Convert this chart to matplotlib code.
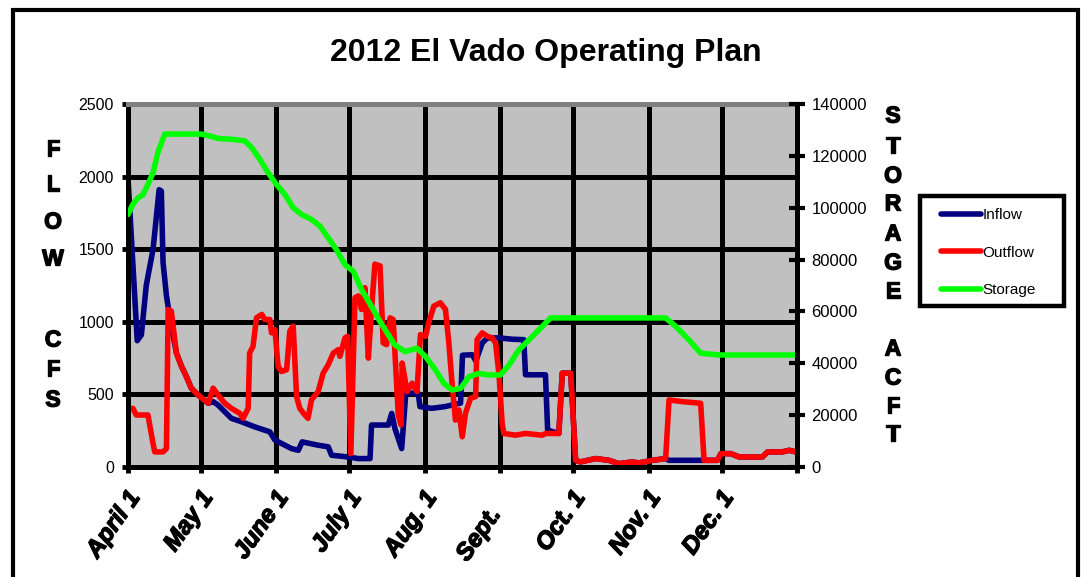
import matplotlib
matplotlib.use("Agg")
import matplotlib.pyplot as plt
from matplotlib import patheffects
from matplotlib.lines import Line2D
from matplotlib.patches import Rectangle
from matplotlib.transforms import offset_copy

plt.rcParams["font.family"] = ["Liberation Sans", "DejaVu Sans"]

# days counted from April 1
month_days = [0, 30, 61, 91, 122, 153, 183, 214, 244, 275]
month_labels = ["April 1", "May 1", "June 1", "July 1", "Aug. 1", "Sept.   ",
                "Oct. 1", "Nov. 1", "Dec. 1", ""]

inflow_day = [0, 3.8, 5.5, 7.5, 10.3, 12.8, 13.7, 14.4, 15.8, 17.1, 19.9, 22, 24,
              26, 28.8, 33, 35, 37, 42.5, 46.6, 52, 58.3, 60.4, 67.2, 70, 71.6,
              78.2, 82.3, 83.7, 90.5, 94.7, 99.5, 100.1, 107, 108.4, 109.7, 112.5,
              114.2, 119.3, 120, 124.8, 130.3, 136.7, 137.5, 141.5, 143, 145.6,
              147.7, 152.5, 158, 162.7, 163.4, 171.6, 172.5, 177.1, 178.5, 182,
              184, 186, 192.2, 197.7, 201.8, 207.3, 210, 215.6, 221, 222.4, 234,
              237, 242.3, 243.7, 247.8, 251.2, 260.8, 262.9, 269, 271.8, 274.5]
inflow_cfs = [1990, 870, 910, 1250, 1500, 1910, 1900, 1410, 1180, 1040, 785, 693,
              623, 543, 496, 439, 450, 427, 335, 312, 277, 242, 185, 127, 115, 173,
              150, 139, 81, 69, 58, 58, 289, 289, 369, 266, 127, 510, 508, 416, 404,
              416, 440, 770, 773, 730, 854, 889, 889, 880, 877, 635, 635, 254, 231,
              646, 646, 46, 35, 58, 46, 23, 35, 28, 46, 58, 46, 46, 46, 46, 92, 92,
              69, 69, 104, 104, 115, 104]

outflow_day = [0, 2, 3.4, 8.2, 10.3, 11, 14.4, 15.8, 16.5, 17.8, 19.9, 22, 24, 26,
               28.8, 33, 35, 37, 39.8, 42.5, 46, 47.3, 49.4, 50, 51.4, 52.8, 55,
               56.2, 58.3, 59, 60.4, 61.7, 63.1, 65.2, 66.5, 67.9, 69.3, 70.6, 72.7,
               74, 75.4, 78.2, 80.2, 82.3, 84.4, 86.4, 87.1, 89.2, 90.3, 91.6, 93.3,
               94.7, 96, 97.4, 98.8, 100.1, 101.5, 103.6, 104.9, 106.3, 107.7, 109,
               111.1, 112.2, 112.7, 114.7, 116.8, 118.8, 120.2, 122.3, 123.6, 125.7,
               128.4, 130.5, 131.9, 133.2, 134.6, 136, 137.4, 138.7, 140.8, 142.9,
               143.5, 145.6, 147.7, 149.7, 151.1, 152.5, 153.8, 154.5, 159.3, 163.4,
               170.3, 171.7, 177.1, 178.5, 182, 184, 186, 192.2, 197.7, 201.8, 207.3,
               210, 215.6, 221, 222.4, 227.9, 235.4, 236.8, 242.3, 243.7, 247.8,
               251.2, 256.7, 260.8, 262.9, 269, 271.8, 274.5]
outflow_cfs = [397, 404, 358, 358, 162, 104, 104, 127, 1085, 1074, 785, 693, 623,
               543, 496, 439, 543, 496, 439, 404, 369, 335, 404, 785, 831, 1027,
               1051, 1016, 1016, 924, 947, 693, 658, 670, 935, 970, 485, 404, 358,
               335, 462, 520, 646, 704, 785, 808, 762, 889, 900, 92, 1166, 1178,
               1085, 1235, 750, 1085, 1397, 1385, 854, 843, 1027, 1016, 358, 290,
               716, 520, 577, 520, 912, 900, 993, 1108, 1131, 1085, 854, 577, 323,
               393, 208, 369, 473, 485, 877, 924, 900, 889, 854, 635, 300, 231, 219,
               231, 219, 231, 231, 646, 646, 46, 35, 58, 46, 23, 35, 28, 46, 58,
               462, 450, 439, 46, 46, 92, 92, 69, 69, 69, 104, 104, 115, 104]

storage_day = [0, 2, 4.1, 6.2, 8.2, 10.3, 12.3, 15.1, 30.2, 34.3, 37, 42.5, 48,
               50.8, 54.2, 57.6, 61, 64.5, 67.9, 71.3, 75.4, 78.9, 82.3, 85.7, 89.2,
               92.6, 96, 100.1, 103.6, 107, 109.7, 113.9, 118.8, 122.3, 126.4, 129.8,
               133.2, 136.7, 140.1, 144.2, 148.3, 153.1, 156.6, 160.7, 166.2, 173.7,
               193.6, 221, 225.2, 230.6, 235.4, 243, 274.5]
storage_acft = [97400, 101300, 103800, 105100, 109000, 113500, 121300, 128400,
                128400, 127500, 126700, 126400, 125800, 123200, 118700, 113500,
                109000, 105100, 100000, 97400, 95500, 92900, 88400, 83800, 78000,
                75500, 68400, 61900, 56100, 51000, 47100, 44500, 45800, 42600,
                37400, 32300, 29700, 30300, 34800, 36100, 35500, 35500, 39300,
                45200, 50300, 57500, 57500, 57500, 54200, 49000, 43900, 43200, 43200]

W, H = 1083, 577
heavy = [patheffects.withStroke(linewidth=1.0, foreground="black")]

fig = plt.figure(figsize=(W / 100, H / 100), dpi=100)
ax = fig.add_axes([128 / W, 1 - 467 / H, (797 - 128) / W, (467 - 104) / H])
ax2 = ax.twinx()

ax.set_facecolor("#C0C0C0")
ax.set_xlim(0, 275)
ax.set_ylim(0, 2500)
ax2.set_ylim(0, 140000)
ax.set_yticks(range(0, 2501, 500))
ax2.set_yticks(range(0, 140001, 20000))
ax.set_xticks(month_days)
ax.set_xticklabels([])

# rotated month labels, right end hung just below each tick
label_tr = offset_copy(ax.get_xaxis_transform(), fig=fig, x=-2, y=-20,
                       units="dots")
for d, txt in zip(month_days, month_labels):
    ax.text(d, 0, txt, transform=label_tr, rotation=55, ha="right", va="top",
            rotation_mode="anchor", fontsize=17.5, fontweight="bold",
            fontstyle="italic", path_effects=heavy, clip_on=False)

ax.grid(True, color="black", linewidth=3.6)
ax.set_axisbelow(True)
for name in ["left", "bottom"]:
    ax.spines[name].set_linewidth(3.6)
ax.spines["top"].set_color("#808080")
ax.spines["top"].set_linewidth(3.6)
ax2.spines["right"].set_linewidth(3.6)
for name in ["left", "top", "bottom"]:
    ax2.spines[name].set_visible(False)
ax.spines["right"].set_visible(False)

ax.tick_params(axis="y", direction="out", length=4, width=3.5, pad=6,
               labelsize=11.5)
ax.tick_params(axis="x", direction="out", length=4, width=3.5, pad=2)
ax2.tick_params(axis="y", direction="inout", length=11, width=3, pad=5,
                labelsize=12)

kw = dict(linewidth=4, solid_joinstyle="round", solid_capstyle="round")
ax.plot(inflow_day, inflow_cfs, color="#000080", **kw)
ax.plot(outflow_day, outflow_cfs, color="#FF0000", **kw)
ax2.plot(storage_day, storage_acft, color="#00FF00", **kw)

fig.text(546 / W, 1 - 53 / H, "2012 El Vado Operating Plan", ha="center",
         va="center", fontsize=23, fontweight="bold")

# stacked axis titles
left_letters = ["F", "L", "O", "W", "C", "F", "S"]
left_y = [149, 184, 222, 259, 340, 369, 400]
for ch, yy in zip(left_letters, left_y):
    fig.text(53 / W, 1 - yy / H, ch, ha="center", va="center", fontsize=16.5,
             fontweight="bold", path_effects=heavy)
right_letters = ["S", "T", "O", "R", "A", "G", "E", "A", "C", "F", "T"]
right_y = [116, 146, 176, 204, 234, 263, 291, 349, 378, 406, 434]
for ch, yy in zip(right_letters, right_y):
    fig.text(893 / W, 1 - yy / H, ch, ha="center", va="center", fontsize=16.5,
             fontweight="bold", path_effects=heavy)

# legend
handles = [Line2D([], [], color=c, linewidth=4, solid_capstyle="round")
           for c in ["#000080", "#FF0000", "#00FF00"]]
fig.legend(handles, ["Inflow", "Outflow", "Storage"], loc="upper left",
           bbox_to_anchor=(941 / W, 1 - 208 / H), frameon=False, fontsize=11,
           handlelength=2.6, handletextpad=0.1, labelspacing=1.55,
           borderpad=0, borderaxespad=0)
fig.patches.append(Rectangle((920 / W, 1 - 306 / H), 144 / W, 110 / H,
                             transform=fig.transFigure, fill=False,
                             edgecolor="black", linewidth=3.2))

# outer border
fig.patches.append(Rectangle((13 / W, -0.1), 1065 / W, 1.1 - 9.5 / H,
                             transform=fig.transFigure, fill=False,
                             edgecolor="black", linewidth=3))

fig.savefig("out.png", dpi=100)
